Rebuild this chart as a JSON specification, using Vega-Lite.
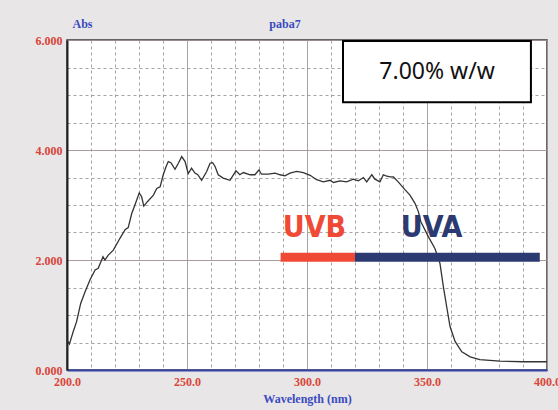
{
  "$schema": "https://vega.github.io/schema/vega-lite/v6.json",
  "width": 480,
  "height": 330,
  "autosize": {"type": "none"},
  "padding": {"left": 67, "top": 40, "right": 11, "bottom": 40},
  "background": "#e8e6e7",
  "title": {
    "text": "paba7",
    "anchor": "middle",
    "dx": -22,
    "offset": -14,
    "font": "Liberation Serif",
    "fontSize": 12,
    "fontWeight": "bold",
    "color": "#3a4bc0"
  },
  "config": {
    "view": {"fill": "white", "stroke": "#3a3a3a", "strokeWidth": 1.5},
    "axis": {
      "labelFont": "Liberation Serif",
      "labelFontWeight": "bold",
      "labelFontSize": 12,
      "labelColor": "#d8453a",
      "titleFont": "Liberation Serif",
      "titleFontWeight": "bold",
      "titleFontSize": 12,
      "titleColor": "#3a4bc0",
      "ticks": false,
      "labelOverlap": false,
      "labelFlush": false
    },
    "axisX": {"tickCount": 20},
    "axisY": {"tickCount": 12}
  },
  "datasets": {
    "spectrum": [
      {"wl": 200.0, "abs": 0.55}, {"wl": 201.0, "abs": 0.47}, {"wl": 202.6, "abs": 0.70},
      {"wl": 204.0, "abs": 0.88}, {"wl": 205.7, "abs": 1.21}, {"wl": 207.5, "abs": 1.42},
      {"wl": 209.6, "abs": 1.64}, {"wl": 211.7, "abs": 1.82}, {"wl": 213.0, "abs": 1.85},
      {"wl": 215.0, "abs": 2.06}, {"wl": 215.8, "abs": 2.00}, {"wl": 217.2, "abs": 2.09},
      {"wl": 219.3, "abs": 2.18}, {"wl": 222.0, "abs": 2.39}, {"wl": 224.2, "abs": 2.55},
      {"wl": 225.5, "abs": 2.59}, {"wl": 227.0, "abs": 2.85}, {"wl": 228.3, "abs": 3.00},
      {"wl": 230.1, "abs": 3.22}, {"wl": 231.1, "abs": 3.15}, {"wl": 232.0, "abs": 2.98},
      {"wl": 233.5, "abs": 3.06}, {"wl": 236.0, "abs": 3.18}, {"wl": 237.4, "abs": 3.30},
      {"wl": 238.8, "abs": 3.33}, {"wl": 240.1, "abs": 3.55}, {"wl": 241.3, "abs": 3.70},
      {"wl": 242.2, "abs": 3.79}, {"wl": 243.3, "abs": 3.77}, {"wl": 245.0, "abs": 3.65},
      {"wl": 246.4, "abs": 3.76}, {"wl": 247.8, "abs": 3.88}, {"wl": 249.2, "abs": 3.79},
      {"wl": 250.5, "abs": 3.57}, {"wl": 251.9, "abs": 3.67}, {"wl": 253.3, "abs": 3.58},
      {"wl": 254.5, "abs": 3.55}, {"wl": 256.1, "abs": 3.45}, {"wl": 258.2, "abs": 3.61},
      {"wl": 259.6, "abs": 3.76}, {"wl": 260.7, "abs": 3.77}, {"wl": 261.7, "abs": 3.70},
      {"wl": 263.0, "abs": 3.55}, {"wl": 265.1, "abs": 3.49}, {"wl": 267.9, "abs": 3.45},
      {"wl": 270.4, "abs": 3.62}, {"wl": 272.0, "abs": 3.55}, {"wl": 273.5, "abs": 3.59},
      {"wl": 276.3, "abs": 3.55}, {"wl": 278.3, "abs": 3.55}, {"wl": 280.0, "abs": 3.64},
      {"wl": 281.0, "abs": 3.56}, {"wl": 283.9, "abs": 3.56}, {"wl": 286.7, "abs": 3.58},
      {"wl": 288.8, "abs": 3.55}, {"wl": 290.8, "abs": 3.53}, {"wl": 292.9, "abs": 3.58},
      {"wl": 295.7, "abs": 3.61}, {"wl": 298.5, "abs": 3.59}, {"wl": 301.3, "abs": 3.54},
      {"wl": 304.0, "abs": 3.46}, {"wl": 306.8, "abs": 3.42}, {"wl": 309.6, "abs": 3.45},
      {"wl": 311.0, "abs": 3.41}, {"wl": 313.8, "abs": 3.44}, {"wl": 316.5, "abs": 3.42},
      {"wl": 319.3, "abs": 3.47}, {"wl": 321.4, "abs": 3.44}, {"wl": 323.5, "abs": 3.50},
      {"wl": 324.9, "abs": 3.42}, {"wl": 327.0, "abs": 3.55}, {"wl": 328.3, "abs": 3.47},
      {"wl": 330.4, "abs": 3.42}, {"wl": 331.8, "abs": 3.55}, {"wl": 332.9, "abs": 3.53},
      {"wl": 334.6, "abs": 3.51}, {"wl": 336.0, "abs": 3.51}, {"wl": 338.0, "abs": 3.42},
      {"wl": 340.8, "abs": 3.28}, {"wl": 342.9, "abs": 3.18}, {"wl": 345.0, "abs": 3.03},
      {"wl": 346.4, "abs": 2.88}, {"wl": 347.4, "abs": 2.70}, {"wl": 350.6, "abs": 2.42},
      {"wl": 353.3, "abs": 2.21}, {"wl": 355.4, "abs": 1.94}, {"wl": 356.8, "abs": 1.52},
      {"wl": 358.2, "abs": 1.15}, {"wl": 359.6, "abs": 0.79}, {"wl": 361.7, "abs": 0.52},
      {"wl": 364.5, "abs": 0.33}, {"wl": 368.0, "abs": 0.24}, {"wl": 372.0, "abs": 0.19},
      {"wl": 380.4, "abs": 0.16}, {"wl": 390.0, "abs": 0.15}, {"wl": 400.0, "abs": 0.15}
    ],
    "bands": [
      {"band": "UVB", "start": 289, "end": 320, "level": 2.05, "lx": 303.1, "ly": 2.58},
      {"band": "UVA", "start": 320, "end": 397, "level": 2.05, "lx": 351.9, "ly": 2.58}
    ],
    "note": [
      {"label": "7.00% w/w", "x1": 315, "x2": 393.3, "y1": 4.87, "y2": 5.98, "cx": 354.2, "cy": 5.42}
    ]
  },
  "layer": [
    {
      "data": {"name": "spectrum"},
      "mark": {"type": "line", "color": "#333333", "strokeWidth": 1.3},
      "encoding": {
        "x": {
          "field": "wl",
          "type": "quantitative",
          "scale": {"domain": [200, 400], "nice": false, "zero": false},
          "axis": {
            "title": "Wavelength (nm)",
            "labelExpr": "datum.value % 50 === 0 ? format(datum.value, '.1f') : ''",
            "labelPadding": 6,
            "titlePadding": 6,
            "domainColor": "#3545a5",
            "domainWidth": 2,
            "gridColor": {"condition": {"test": "datum.value % 50 === 0", "value": "#a09898"}, "value": "#9a9a9a"},
            "gridDash": {"condition": {"test": "datum.value % 50 === 0", "value": []}, "value": [3, 3]},
            "gridWidth": 1,
            "gridOpacity": 0.9
          }
        },
        "y": {
          "field": "abs",
          "type": "quantitative",
          "scale": {"domain": [0, 6], "nice": false},
          "axis": {
            "title": "Abs",
            "titleAngle": 0,
            "titleAlign": "left",
            "titleBaseline": "bottom",
            "titleX": 5,
            "titleY": -10,
            "labelExpr": "datum.value % 2 === 0 ? format(datum.value, '.3f') : ''",
            "labelPadding": 5,
            "domainColor": "#222222",
            "domainWidth": 2,
            "gridColor": {"condition": {"test": "datum.value % 2 === 0", "value": "#a09090"}, "value": "#9a9a9a"},
            "gridDash": {"condition": {"test": "datum.value % 2 === 0", "value": []}, "value": [3, 3]},
            "gridWidth": 1,
            "gridOpacity": 0.9
          }
        }
      }
    },
    {
      "data": {"name": "note"},
      "mark": {"type": "rect", "fill": "white", "stroke": "black", "strokeWidth": 2},
      "encoding": {
        "x": {"field": "x1", "type": "quantitative", "axis": {"title": "Wavelength (nm)"}},
        "x2": {"field": "x2"},
        "y": {"field": "y1", "type": "quantitative", "axis": {"title": "Abs"}},
        "y2": {"field": "y2"}
      }
    },
    {
      "data": {"name": "note"},
      "mark": {"type": "text", "font": "Noto Sans", "fontSize": 23, "color": "#111111", "align": "center", "baseline": "middle"},
      "encoding": {
        "x": {"field": "cx", "type": "quantitative", "axis": {"title": "Wavelength (nm)"}},
        "y": {"field": "cy", "type": "quantitative", "axis": {"title": "Abs"}},
        "text": {"field": "label"}
      }
    },
    {
      "data": {"name": "bands"},
      "mark": {"type": "rule", "strokeWidth": 9},
      "encoding": {
        "x": {"field": "start", "type": "quantitative", "axis": {"title": "Wavelength (nm)"}},
        "x2": {"field": "end"},
        "y": {"field": "level", "type": "quantitative", "axis": {"title": "Abs"}},
        "color": {"field": "band", "type": "nominal", "scale": {"domain": ["UVB", "UVA"], "range": ["#f04a36", "#2c3a72"]}, "legend": null}
      }
    },
    {
      "data": {"name": "bands"},
      "mark": {"type": "text", "font": "DejaVu Sans Condensed", "fontWeight": "bold", "fontSize": 30, "align": "center", "baseline": "middle"},
      "encoding": {
        "x": {"field": "lx", "type": "quantitative", "axis": {"title": "Wavelength (nm)"}},
        "y": {"field": "ly", "type": "quantitative", "axis": {"title": "Abs"}},
        "text": {"field": "band"},
        "color": {"field": "band", "type": "nominal", "scale": {"domain": ["UVB", "UVA"], "range": ["#f04a36", "#2c3a72"]}, "legend": null}
      }
    }
  ]
}
